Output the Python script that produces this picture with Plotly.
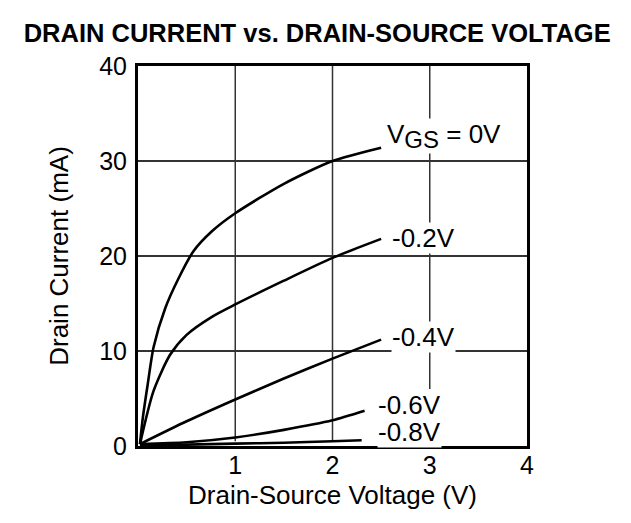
import plotly.graph_objects as go

# Data
vds_0 = [0.02, 0.05, 0.1, 0.16, 0.28, 0.41, 0.57, 0.76, 1.0, 1.5, 2.0, 2.5]
id_0 = [0.2, 3.0, 6.5, 10.4, 14.5, 17.5, 20.5, 22.6, 24.5, 27.6, 30.0, 31.4]

vds_2 = [0.02, 0.16, 0.33, 0.5, 0.76, 1.0, 1.5, 2.0, 2.5]
id_2 = [0.2, 5.8, 9.6, 11.7, 13.6, 14.9, 17.4, 19.8, 21.8]

vds_4 = [0.02, 0.5, 1.0, 1.5, 2.0, 2.5]
id_4 = [0.2, 2.6, 4.9, 7.1, 9.2, 11.2]

vds_6 = [0.02, 0.5, 1.0, 1.5, 2.0, 2.33]
id_6 = [0.2, 0.4, 0.9, 1.7, 2.7, 3.7]

vds_8 = [0.02, 0.5, 1.0, 1.5, 2.0, 2.3]
id_8 = [0.1, 0.15, 0.25, 0.35, 0.5, 0.6]

curve_labels = ["V<sub><span style='font-size:24px'>GS</span></sub> = 0V",
                "-0.2V", "-0.4V", "-0.6V", "-0.8V"]
label_x = [2.55, 2.6, 2.6, 2.46, 2.46]
label_y = [32.6, 21.9, 11.5, 4.3, 1.5]

x_ticks = [1, 2, 3, 4]
y_ticks = [0, 10, 20, 30, 40]

FONT = "Liberation Sans, Arial, Helvetica, sans-serif"

fig = go.Figure()
for xs, ys in [(vds_0, id_0), (vds_2, id_2), (vds_4, id_4), (vds_6, id_6), (vds_8, id_8)]:
    fig.add_trace(go.Scatter(x=xs, y=ys, mode="lines",
                             line=dict(color="black", width=2.6, shape="spline", smoothing=0.7),
                             showlegend=False, hoverinfo="skip"))

# vertical grid lines
for gx, y0 in [(1, 0.5), (2, 0.5), (3, 6)]:
    fig.add_shape(type="line", xref="x", yref="y", x0=gx, x1=gx, y0=y0, y1=40,
                  line=dict(color="#333333", width=1.5), layer="below")

for t, lx, ly in zip(curve_labels, label_x, label_y):
    fig.add_annotation(x=lx, y=ly, xref="x", yref="y", text=t, showarrow=False,
                       xanchor="left", yanchor="middle",
                       font=dict(family=FONT, size=26, color="black"),
                       bgcolor="white", borderpad=0)

fig.update_layout(
    width=631, height=523,
    margin=dict(l=130, r=112, t=58, b=85),
    plot_bgcolor="white", paper_bgcolor="white",
    font=dict(family=FONT, size=25, color="black"),
    title=dict(text="<b>DRAIN CURRENT vs. DRAIN-SOURCE VOLTAGE</b>",
               x=0.49, xanchor="center", y=0.953, yanchor="middle",
               font=dict(family=FONT, size=25.5, color="black")),
)
fig.update_xaxes(range=[0, 4], tickvals=x_ticks, ticktext=[str(v) for v in x_ticks],
                 showgrid=False, zeroline=False, showline=True, mirror=True,
                 linecolor="black", linewidth=3, ticks="", ticklabelstandoff=-5,
                 tickfont=dict(size=25), automargin=False,
                 title=dict(text="Drain-Source Voltage (V)", standoff=8, font=dict(size=26)))
fig.update_yaxes(range=[0, 40], tickvals=y_ticks, showgrid=True, gridcolor="#333333",
                 gridwidth=1.5, zeroline=False, showline=True, mirror=True,
                 linecolor="black", linewidth=3, ticks="", ticklabelstandoff=3,
                 tickfont=dict(size=25), automargin=False,
                 title=dict(text="Drain Current (mA)", standoff=24, font=dict(size=26)))

fig.write_html("out.html")
